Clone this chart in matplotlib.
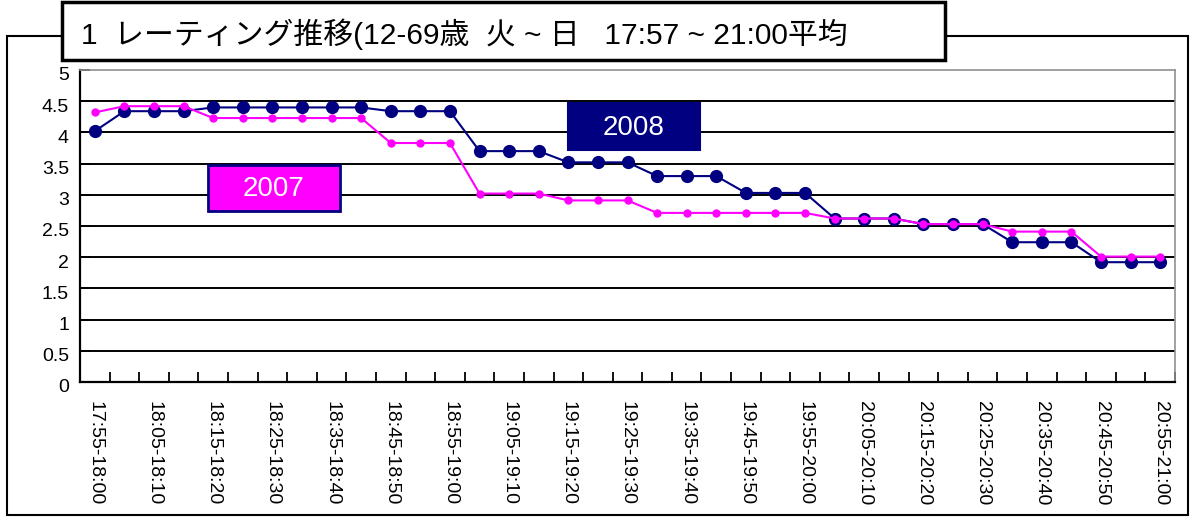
import matplotlib
matplotlib.use("Agg")
import matplotlib.pyplot as plt
import matplotlib.transforms as mtransforms
from matplotlib.patches import Rectangle

plt.rcParams['font.family'] = ['Liberation Sans', 'Noto Sans CJK JP']

# 5-minute slots, 17:55 to 21:00
slots = ['17:55-18:00', '18:00-18:05', '18:05-18:10', '18:10-18:15', '18:15-18:20',
         '18:20-18:25', '18:25-18:30', '18:30-18:35', '18:35-18:40', '18:40-18:45',
         '18:45-18:50', '18:50-18:55', '18:55-19:00', '19:00-19:05', '19:05-19:10',
         '19:10-19:15', '19:15-19:20', '19:20-19:25', '19:25-19:30', '19:30-19:35',
         '19:35-19:40', '19:40-19:45', '19:45-19:50', '19:50-19:55', '19:55-20:00',
         '20:00-20:05', '20:05-20:10', '20:10-20:15', '20:15-20:20', '20:20-20:25',
         '20:25-20:30', '20:30-20:35', '20:35-20:40', '20:40-20:45', '20:45-20:50',
         '20:50-20:55', '20:55-21:00']

rating_2008 = [4.02, 4.34, 4.34, 4.34, 4.40, 4.40, 4.40, 4.40, 4.40, 4.40,
               4.34, 4.34, 4.34, 3.70, 3.70, 3.70, 3.52, 3.52, 3.52, 3.30,
               3.30, 3.30, 3.03, 3.03, 3.03, 2.62, 2.62, 2.62, 2.53, 2.53,
               2.53, 2.24, 2.24, 2.24, 1.92, 1.92, 1.92]
rating_2007 = [4.32, 4.42, 4.42, 4.42, 4.23, 4.23, 4.23, 4.23, 4.23, 4.23,
               3.83, 3.83, 3.83, 3.02, 3.02, 3.02, 2.91, 2.91, 2.91, 2.71,
               2.71, 2.71, 2.71, 2.71, 2.71, 2.62, 2.62, 2.62, 2.53, 2.53,
               2.53, 2.41, 2.41, 2.41, 2.01, 2.01, 2.01]

yticks = [0, 0.5, 1, 1.5, 2, 2.5, 3, 3.5, 4, 4.5, 5]
title = '1  レーティング推移(12-69歳  火 ~ 日   17:57 ~ 21:00平均'

W, H = 1194, 517
fig = plt.figure(figsize=(W / 100, H / 100), dpi=100)


def px_rect(x0, y0, x1, y1, **kw):
    # rectangle given in pixel coords (origin top-left)
    r = Rectangle((x0 / W, 1 - y1 / H), (x1 - x0) / W, (y1 - y0) / H,
                  transform=fig.transFigure, **kw)
    fig.patches.append(r)
    return r


# outer frame
px_rect(7, 36, 1188, 515, fill=False, edgecolor='black', linewidth=1.5, zorder=0)

ax = fig.add_axes([80 / W, 1 - 382 / H, (1175 - 80) / W, (382 - 70) / H])
x = list(range(len(slots)))

for y in yticks[1:-1]:
    ax.axhline(y, color='black', linewidth=1.4, zorder=1)

ax.plot(x, rating_2008, color='#000080', linewidth=1.5, marker='o',
        markersize=8.5, markerfacecolor='#000080', markeredgecolor='#000080', zorder=3)
ax.plot(x, rating_2007, color='#FF00FF', linewidth=1.5, marker='o',
        markersize=5, markerfacecolor='#FF00FF', markeredgecolor='#FF00FF', zorder=4)

ax.set_xlim(-0.5, len(slots) - 0.5)
ax.set_ylim(0, 5)
ax.set_yticks(yticks)
ax.set_yticklabels([f'{v:g}' for v in yticks], fontsize=14)
ax.tick_params(axis='y', direction='in', length=7, width=1.3, pad=8)
shift = mtransforms.ScaledTranslation(0, -4 / 100, fig.dpi_scale_trans)
for lab in ax.get_yticklabels():
    lab.set_transform(lab.get_transform() + shift)

ax.set_xticks(x[::2])
ax.set_xticklabels(slots[::2], rotation=270, fontsize=14, va='top', ha='center')
ax.set_xticks([i - 0.5 for i in range(len(slots) + 1)], minor=True)
ax.tick_params(axis='x', which='major', length=0, pad=14)
ax.tick_params(axis='x', which='minor', direction='in', length=7, width=1.3)

for side in ['left', 'bottom']:
    ax.spines[side].set_color('black')
    ax.spines[side].set_linewidth(1.6)
for side in ['top', 'right']:
    ax.spines[side].set_color('#909090')
    ax.spines[side].set_linewidth(1.2)

# series labels
px_rect(568, 103, 700, 150, facecolor='#000080', edgecolor='#000080', linewidth=1.5, zorder=5)
fig.text(634 / W, 1 - 128 / H, '2008', fontsize=20, color='white',
         ha='center', va='center', zorder=6)
px_rect(208, 165, 340, 211, facecolor='#FF00FF', edgecolor='#000080', linewidth=2, zorder=5)
fig.text(274 / W, 1 - 189 / H, '2007', fontsize=20, color='white',
         ha='center', va='center', zorder=6)

# title box
px_rect(62, 2, 945, 60, facecolor='white', edgecolor='black', linewidth=2.5, zorder=5)
fig.text(81 / W, 1 - 34 / H, title, fontsize=21.5, ha='left', va='center', zorder=6)

fig.savefig('out.png', dpi=100)
